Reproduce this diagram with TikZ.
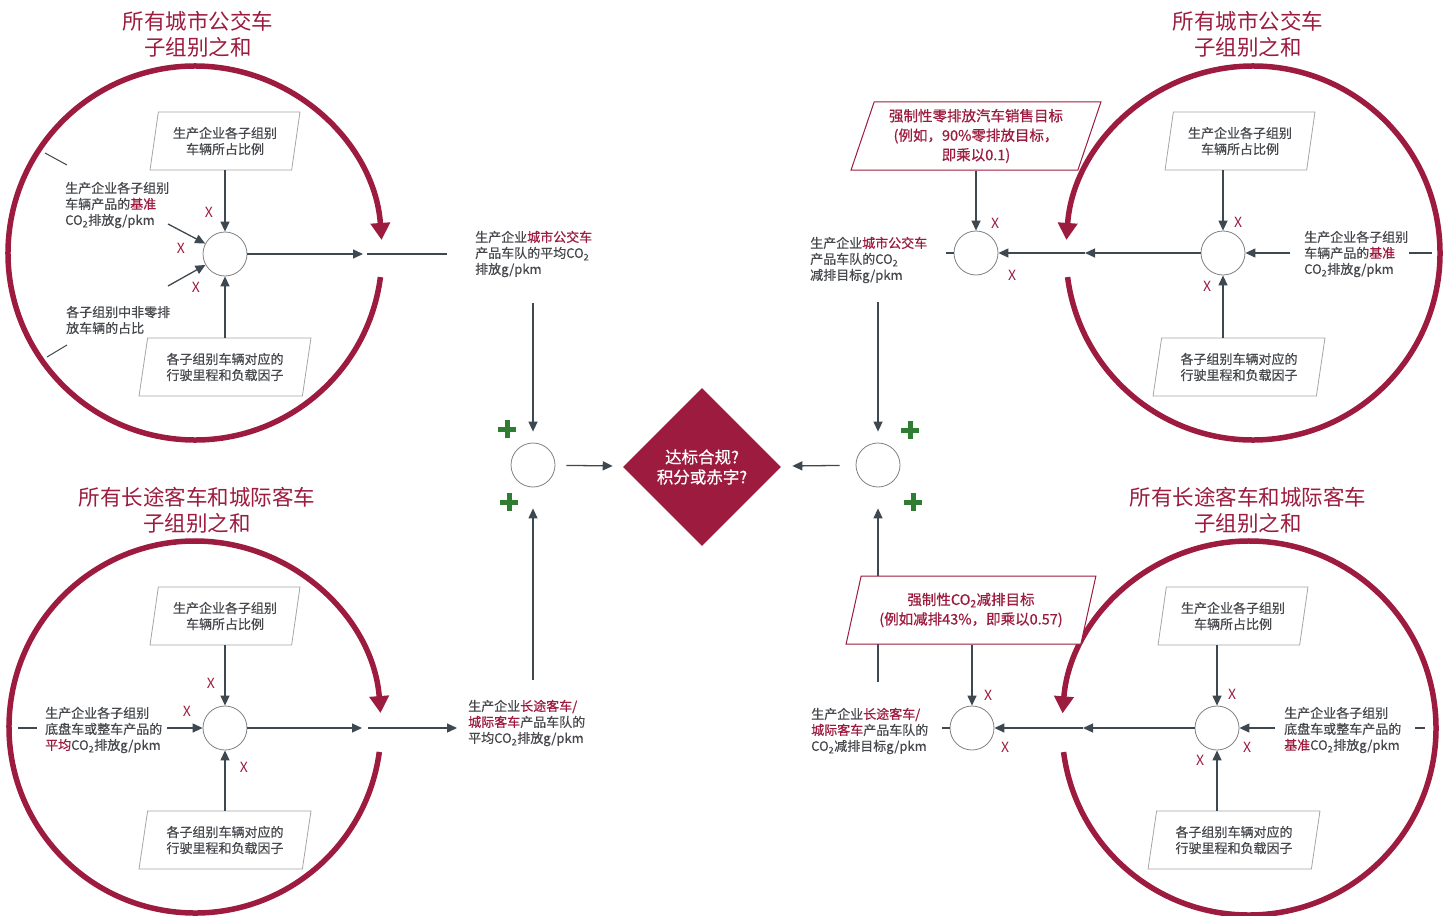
\documentclass[tikz,border=0pt]{standalone}
\usepackage{fontspec}
\setmainfont{Noto Sans CJK SC}
\newfontfamily\medfont{Noto Sans CJK SC}[FakeBold=0.6]
\usetikzlibrary{arrows.meta,shapes.geometric}
\definecolor{icctred}{RGB}{156,27,62}
\definecolor{icctgray}{RGB}{70,72,76}
\definecolor{wiregray}{RGB}{62,72,80}
\definecolor{boxgray}{RGB}{165,165,165}
\definecolor{plusgreen}{RGB}{46,125,50}
\newcommand*{\cotwo}{CO\textsubscript{2}}
\newcommand*{\hl}[1]{\textcolor{icctred}{#1}}
\newcommand*{\txtsize}{\medfont\fontsize{13}{16}\selectfont}

\tikzset{
  wire/.style={draw=wiregray, line width=1.3pt},
  arr/.style={wire, -{Triangle[length=10pt,width=9pt]}},
  ring/.style={draw=icctred, line width=5.5pt, -{Triangle[length=17pt,width=19pt]}},
  prod/.style={circle, draw=gray, line width=0.8pt, minimum size=44pt, inner sep=0pt},
  para/.style={trapezium, trapezium left angle=77, trapezium right angle=103, trapezium stretches=true,
    draw=boxgray, line width=0.8pt, minimum height=58pt, inner sep=0pt, align=center, text=icctgray, font=\txtsize},
  sharebox/.style={para, minimum width=150pt},
  loadbox/.style={para, minimum width=172pt},
  goalbox/.style={trapezium, trapezium left angle=70, trapezium right angle=110, trapezium stretches=true,
    draw=icctred, line width=1pt, fill=white, minimum height=68pt, minimum width=250pt, inner sep=0pt,
    align=center, text=icctred, font=\medfont\fontsize{14.5}{19.5}\selectfont},
  infotext/.style={align=left, anchor=west, text=icctgray, font=\txtsize, inner sep=0pt, yshift=-2pt},
  ringtitle/.style={align=center, text=icctred, font=\fontsize{21.5}{26}\selectfont, inner sep=0pt},
  verdictbox/.style={diamond, fill=icctred, minimum width=158pt, minimum height=158pt, inner sep=0pt,
    align=center, text=white, font=\medfont\fontsize{16.5}{20}\selectfont},
  mul/.style={text=icctred, font=\fontsize{14}{14}\selectfont, inner sep=0pt},
  plussign/.style={draw=plusgreen, line width=5pt},
}

\begin{document}
\begin{tikzpicture}[x=1pt, y=-1pt]
  \useasboundingbox (0,0) rectangle (1450,915);

  % ring centres
  \coordinate (cTL) at (195,253);
  \coordinate (cTR) at (1253,253);
  \coordinate (cBL) at (195,727);
  \coordinate (cBR) at (1249,728);

  \draw[ring] ([shift={(7.4:187)}]cTL) arc[start angle=7.4, end angle=356, radius=187];
  \draw[ring] ([shift={(172.6:187)}]cTR) arc[start angle=172.6, end angle=-176, radius=187];
  \draw[ring] ([shift={(7.7:186)}]cBL) arc[start angle=7.7, end angle=355.7, radius=186];
  \draw[ring] ([shift={(172.6:187)}]cBR) arc[start angle=172.6, end angle=-175.5, radius=187];

  \draw[wire, line width=1pt] (45,153) -- (67,165);
  \draw[wire, line width=1pt] (47,357) -- (67,345);

  \node[ringtitle] (titleTL) at (198,34) {所有城市公交车\\子组别之和};
  \node[ringtitle] (titleTR) at (1248,34) {所有城市公交车\\子组别之和};
  \node[ringtitle] (titleBL) at (197,510) {所有长途客车和城际客车\\子组别之和};
  \node[ringtitle] (titleBR) at (1248,510) {所有长途客车和城际客车\\子组别之和};

  % top left: city buses
  \node[sharebox] (shareTL) at (225,141) {生产企业各子组别\\车辆所占比例};
  \node[loadbox] (loadTL) at (225,367) {各子组别车辆对应的\\行驶里程和负载因子};
  \node[prod] (prodTL) at (225,254) {};
  \node[infotext] (baseTL) at (65,203) {生产企业各子组别\\车辆产品的\hl{基准}\\\cotwo{}排放g/pkm};
  \node[infotext] (zeroTL) at (66,318) {各子组别中非零排\\放车辆的占比};
  \node[infotext] (avgTL) at (475,252) {生产企业\hl{城市公交车}\\产品车队的平均\cotwo\\排放g/pkm};
  \coordinate (baseTLend) at (168,224);
  \coordinate (zeroTLend) at (168,286);
  \coordinate (gapTL) at (363,254);
  \coordinate (gapTLb) at (367,254);
  \coordinate (stubTL) at (447,254);
  \draw[arr] (shareTL.south -| prodTL) -- (prodTL);
  \draw[arr] (loadTL.north -| prodTL) -- (prodTL);
  \draw[arr] (baseTLend) -- (prodTL);
  \draw[arr] (zeroTLend) -- (prodTL);
  \draw[arr] (prodTL) -- (gapTL);
  \draw[wire] (gapTLb) -- (stubTL);

  % bottom left: coaches
  \node[sharebox] (shareBL) at (225,616) {生产企业各子组别\\车辆所占比例};
  \node[loadbox] (loadBL) at (225,840) {各子组别车辆对应的\\行驶里程和负载因子};
  \node[prod] (prodBL) at (225,728) {};
  \node[infotext] (baseBL) at (45,728) {生产企业各子组别\\底盘车或整车产品的\\\hl{平均}\cotwo{}排放g/pkm};
  \node[infotext] (avgBL) at (468,721) {生产企业\hl{长途客车/}\\\hl{城际客车}产品车队的\\平均\cotwo{}排放g/pkm};
  \coordinate (stubBLa) at (18,728);
  \coordinate (stubBLb) at (37,728);
  \coordinate (baseBLend) at (167,728);
  \coordinate (gapBL) at (362,728);
  \coordinate (gapBLb) at (368,728);
  \coordinate (avgBLend) at (457,728);
  \draw[wire] (stubBLa) -- (stubBLb);
  \draw[arr] (shareBL.south -| prodBL) -- (prodBL);
  \draw[arr] (loadBL.north -| prodBL) -- (prodBL);
  \draw[arr] (baseBLend) -- (prodBL);
  \draw[arr] (prodBL) -- (gapBL);
  \draw[arr] (gapBLb) -- (avgBLend);

  % centre: sums and verdict
  \node[prod] (sumL) at (533,465) {};
  \node[prod] (sumR) at (878,465) {};
  \node[verdictbox] (verdict) at (702,467) {达标合规?\\积分或赤字?};
  \coordinate (inA) at (533,303);
  \coordinate (inB) at (533,680);
  \coordinate (inC) at (878,302);
  \coordinate (inD) at (878,682);
  \draw[arr, shorten >=11pt] (inA) -- (sumL);
  \draw[arr, shorten >=21pt] (inB) -- (sumL);
  \draw[arr, shorten >=11pt] (inC) -- (sumR);
  \draw[arr, shorten >=21pt] (inD) -- (sumR);
  \draw[arr, shorten <=11pt, shorten >=11pt] (sumL) -- (verdict);
  \draw[arr, shorten <=16pt, shorten >=12pt] (sumR) -- (verdict);
  \foreach \x/\y in {507/429, 509/502, 910/430, 913/502}
    \draw[plussign] (\x-9,\y) -- (\x+9,\y) (\x,\y-9) -- (\x,\y+9);

  % top right: city bus targets
  \node[sharebox] (shareTR) at (1240,141) {生产企业各子组别\\车辆所占比例};
  \node[loadbox] (loadTR) at (1239,367) {各子组别车辆对应的\\行驶里程和负载因子};
  \node[prod] (prodTR) at (1223,253) {};
  \node[prod] (targetTR) at (976,253) {};
  \node[goalbox] (zevTR) at (976,136) {强制性零排放汽车销售目标\\(例如，90\%零排放目标，\\即乘以0.1)};
  \node[infotext] (baseTR) at (1304,252) {生产企业各子组别\\车辆产品的\hl{基准}\\\cotwo{}排放g/pkm};
  \node[infotext] (goalTR) at (810,258) {生产企业\hl{城市公交车}\\产品车队的\cotwo\\减排目标g/pkm};
  \coordinate (baseTRend) at (1290,253);
  \coordinate (stubTRa) at (1409,253);
  \coordinate (stubTRb) at (1432,253);
  \coordinate (gapTR) at (1085,253);
  \coordinate (stubTR) at (946,253);
  \draw[arr] (shareTR.south -| prodTR) -- (prodTR);
  \draw[arr] (loadTR.north -| prodTR) -- (prodTR);
  \draw[arr] (baseTRend) -- (prodTR);
  \draw[wire] (stubTRa) -- (stubTRb);
  \draw[arr] (prodTR) -- (gapTR);
  \draw[arr] (gapTR) -- (targetTR);
  \draw[wire] (stubTR) -- (targetTR);
  \draw[arr] (zevTR.south -| targetTR) -- (targetTR);

  % bottom right: coach targets
  \node[sharebox] (shareBR) at (1233,616) {生产企业各子组别\\车辆所占比例};
  \node[loadbox] (loadBR) at (1234,840) {各子组别车辆对应的\\行驶里程和负载因子};
  \node[prod] (prodBR) at (1217,728) {};
  \node[prod] (targetBR) at (972,728) {};
  \node[goalbox] (co2BR) at (971,610) {强制性\cotwo{}减排目标\\(例如减排43\%，即乘以0.57)};
  \node[infotext] (baseBR) at (1284,728) {生产企业各子组别\\底盘车或整车产品的\\\hl{基准}\cotwo{}排放g/pkm};
  \node[infotext] (goalBR) at (811,729) {生产企业\hl{长途客车/}\\\hl{城际客车}产品车队的\\\cotwo{}减排目标g/pkm};
  \coordinate (baseBRend) at (1275,728);
  \coordinate (stubBRa) at (1415,728);
  \coordinate (stubBRb) at (1425,728);
  \coordinate (gapBR) at (1083,728);
  \coordinate (stubBR) at (942,728);
  \draw[arr] (shareBR.south -| prodBR) -- (prodBR);
  \draw[arr] (loadBR.north -| prodBR) -- (prodBR);
  \draw[arr] (baseBRend) -- (prodBR);
  \draw[wire] (stubBRa) -- (stubBRb);
  \draw[arr] (prodBR) -- (gapBR);
  \draw[arr] (gapBR) -- (targetBR);
  \draw[wire] (stubBR) -- (targetBR);
  \draw[arr] (co2BR.south -| targetBR) -- (targetBR);

  % multiplication marks
  \foreach \x/\y [count=\k] in {209/212, 181/248, 196/287, 211/683, 187/711, 244/767,
      995/223, 1012/275, 1238/222, 1207/286, 988/695, 1005/747, 1232/694, 1247/747, 1200/760}
    \node[mul] (times\k) at (\x,\y) {X};
\end{tikzpicture}
\end{document}
